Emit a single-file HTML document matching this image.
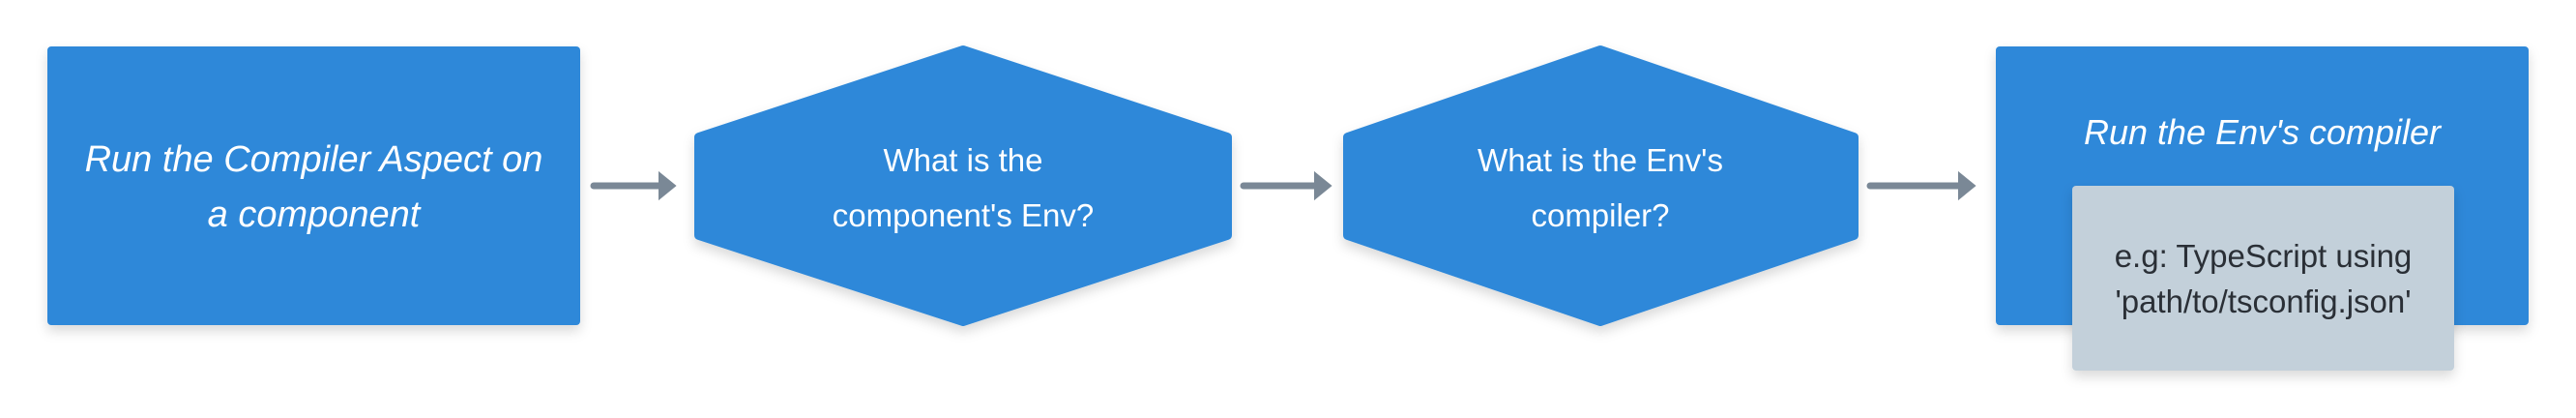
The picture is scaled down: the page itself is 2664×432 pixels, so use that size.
<!DOCTYPE html>
<html><head><style>
html,body{margin:0;padding:0;background:#fff;width:2664px;height:432px;overflow:hidden;font-family:"Liberation Sans",sans-serif}
.t{position:absolute;text-align:center;color:#fff;font-size:34px;line-height:57px;white-space:nowrap}
</style></head><body>
<svg width="2664" height="432" style="position:absolute;left:0;top:0">
<defs><filter id="s" x="-10%" y="-10%" width="120%" height="130%"><feDropShadow dx="0" dy="6" stdDeviation="6" flood-color="#000" flood-opacity="0.15"/></filter></defs>
<rect x="49" y="48" width="551" height="288" rx="4" fill="#2E88D9" filter="url(#s)"/>
<polygon points="996,52 1269,142 1269,243 996,332 723,243 723,142" fill="#2E88D9" stroke="#2E88D9" stroke-width="10" stroke-linejoin="round" filter="url(#s)"/>
<polygon points="1655,52 1917,142 1917,243 1655,332 1394,243 1394,142" fill="#2E88D9" stroke="#2E88D9" stroke-width="10" stroke-linejoin="round" filter="url(#s)"/>
<rect x="2064" y="48" width="551" height="288" rx="4" fill="#2E88D9" filter="url(#s)"/>
<rect x="2143" y="192" width="395" height="191" rx="4" fill="#C3D0DA" filter="url(#s)"/>
<g stroke="#7A8896" stroke-width="7" stroke-linecap="round" fill="#7A8896">
<line x1="614" y1="192" x2="684" y2="192"/><polygon points="682,179 698,192 682,205" stroke-width="2"/>
<line x1="1286" y1="192" x2="1362" y2="192"/><polygon points="1360,179 1376,192 1360,205" stroke-width="2"/>
<line x1="1934" y1="192" x2="2028" y2="192"/><polygon points="2026,179 2042,192 2026,205" stroke-width="2"/>
</g>
</svg>
<div class="t" style="left:49px;width:551px;top:137px;font-style:italic;font-size:38px">Run the Compiler Aspect on<br>a component</div>
<div class="t" style="left:760px;width:472px;top:137px;font-size:33px">What is the<br>component's Env?</div>
<div class="t" style="left:1420px;width:470px;top:137px;font-size:33px">What is the Env's<br>compiler?</div>
<div class="t" style="left:2064px;width:551px;top:108px;font-style:italic;font-size:36px">Run the Env's compiler</div>
<div class="t" style="left:2143px;width:395px;top:241px;color:#2a2f36;font-size:33px;line-height:47px">e.g: TypeScript using<br>'path/to/tsconfig.json'</div>
</body></html>
